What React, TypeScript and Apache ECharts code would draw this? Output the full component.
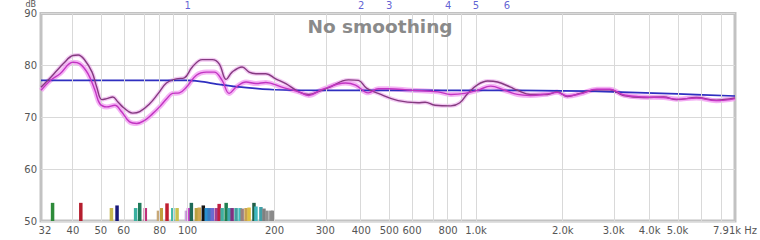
import React, { useEffect, useRef } from "react";
import * as echarts from "echarts";

// ---- data ----
const freqMin = 31;
const freqMax = 7910;

const tickFreqs = [32, 40, 50, 60, 80, 100, 200, 300, 400, 500, 600, 800, 1000, 2000, 3000, 4000, 5000, 7910];
const tickLabels = ["32", "40", "50", "60", "80", "100", "200", "300", "400", "500", "600", "800", "1.0k", "2.0k", "3.0k", "4.0k", "5.0k", "7.91k Hz"];
const gridFreqs = [40, 50, 60, 70, 80, 90, 100, 200, 300, 400, 500, 600, 700, 800, 900, 1000, 2000, 3000, 4000, 5000, 6000, 7000];

const markerFreqs = [100, 400, 500, 800, 1000, 1280];
const markerLabels = ["1", "2", "3", "4", "5", "6"];

// measured response (upper, darker)
const measuredA: [number, number][] = [
  [31, 75.8], [33.4, 77.6], [35.2, 79.0], [37, 80.3], [40, 81.9], [41.7, 82.0], [44, 81.0], [46.6, 78.7],
  [48.4, 75.8], [50.4, 73.4], [52.4, 73.6], [55, 73.9], [57.2, 73.0], [59.5, 72.0], [62, 71.2], [64.5, 70.8],
  [68.2, 71.1], [73.8, 72.6], [78.6, 74.4], [84.4, 76.6], [91.4, 77.4], [97.4, 77.6], [103.8, 79.7],
  [112.4, 81.1], [121.7, 81.1], [128.6, 80.3], [136, 77.3], [142.6, 78.7], [154.5, 79.7], [163.3, 78.7],
  [172.5, 78.4], [186.8, 78.4], [202, 77.4], [219, 76.5], [243, 74.9], [263, 74.4], [291, 75.2], [308, 75.7],
  [361, 77.2], [391, 77.1], [417, 75.6], [458, 74.6], [537, 73.2], [630, 72.8], [666, 72.9], [721, 72.3],
  [818, 72.2], [879, 72.8], [936, 74.6], [1014, 76.3], [1097, 77.0], [1188, 76.8], [1317, 75.8], [1393, 75.2],
  [1544, 74.4], [1767, 74.4], [1913, 74.9], [2071, 74.0], [2296, 74.6], [2628, 75.3], [2914, 75.3], [3257, 74.2],
  [3816, 73.8], [4474, 73.9], [4961, 73.4], [5815, 73.8], [6814, 73.3], [7910, 73.7],
];

// measured response (lower, brighter)
const measuredB: [number, number][] = [
  [31, 75.2], [33.4, 77.1], [36.1, 78.4], [40, 80.6], [42.3, 80.3], [45.1, 78.4], [47.7, 75.2], [49.6, 72.6],
  [52.4, 72.0], [55.9, 72.3], [59.1, 71.0], [62.9, 69.1], [66.6, 68.8], [70.9, 69.4], [75.6, 70.7], [79.9, 72.0],
  [84.4, 73.5], [88.6, 74.6], [93.6, 74.7], [99, 75.8], [107.2, 78.1], [116, 78.7], [123.6, 78.7], [131.7, 77.1],
  [139.3, 74.6], [147.2, 75.8], [159.4, 76.8], [172.5, 76.5], [186.8, 76.7], [212, 75.8], [243, 74.9], [263, 74.2],
  [291, 75.3], [353, 76.6], [382, 76.2], [423, 74.7], [458, 75.5], [496, 75.5], [596, 75.2], [738, 74.9],
  [818, 74.4], [914, 74.6], [1014, 75.2], [1124, 76.0], [1256, 75.2], [1393, 74.4], [1544, 74.2], [1767, 74.5],
  [1913, 74.8], [2071, 74.1], [2296, 74.5], [2628, 75.4], [2914, 75.4], [3257, 74.3], [3816, 73.9], [4474, 73.8],
  [4961, 73.5], [5815, 73.7], [6814, 73.2], [7910, 73.6],
];

// target curve
const target: [number, number][] = [
  [31, 77.1], [100, 77.1], [110, 76.9], [130, 76.3], [160, 75.7], [200, 75.3], [300, 75.2], [1000, 75.2],
  [2000, 75.1], [3000, 74.9], [5000, 74.5], [7910, 74.1],
];

// filter bars: frequency, top level (dB), colour
const barFreqs = [34.0, 42.6, 54.4, 56.9, 66.0, 68.2, 71.3, 79.2, 81.0, 84.8, 88.8, 91.9, 99.0, 100.6, 103, 107.2,
  109.7, 113.3, 116, 118.8, 121.7, 125.6, 128.6, 131.7, 136, 139.3, 142.6, 147.2, 152, 154.5, 159.4, 163.3,
  169.8, 172.5, 179.5, 183.9, 188.3, 194.4, 197.5];
const barTops = [53.5, 53.5, 52.5, 53.0, 52.5, 53.5, 52.5, 52.0, 52.5, 53.4, 52.5, 52.5, 52.0, 52.5, 53.5, 52.5,
  52.6, 53.0, 52.5, 52.5, 52.5, 52.5, 53.3, 52.5, 53.5, 52.5, 52.5, 52.5, 52.5, 52.4, 52.5, 52.6,
  53.5, 52.8, 52.7, 52.4, 52.0, 52.0, 52.0];
const barColors = ["#2e8b3a", "#b51e2e", "#c8b850", "#18187a", "#3ab0a0", "#1f7a5a", "#c0307a", "#c8a878",
  "#c0a040", "#c01e30", "#40b8a8", "#c8c050", "#c8a8d8", "#d040d0", "#1f6a58", "#b8a040", "#d0a850", "#151515",
  "#2a90d0", "#3a7ac0", "#6a6ad0", "#a04090", "#c02040", "#40b0a0", "#208050", "#40a8b0", "#803080", "#40a0a0",
  "#40c0c0", "#9a8080", "#c8a050", "#e0c040", "#206048", "#40b8c0", "#40a0a8", "#808080", "#909090", "#8c8c8c",
  "#8a8a8a"];

const L = (f: number) => Math.log10(f);
const FONT = "DejaVu Sans";

export default function App() {
  const ref = useRef<HTMLDivElement>(null);
  useEffect(() => {
    if (!ref.current) return;
    const chart = echarts.init(ref.current, undefined, { renderer: "svg" });
    const toXY = (arr: [number, number][]) => arr.map(([f, v]) => [L(f), v]);
    const tickVals = tickFreqs.map(L);
    const option: any = {
      animation: false,
      backgroundColor: "#ffffff",
      title: {
        text: "No smoothing",
        left: "center",
        top: 12,
        textStyle: { fontSize: 18.5, fontWeight: "bold", color: "#8a8a8a", fontFamily: FONT },
      },
      grid: {
        left: 41, right: 20.5, top: 13.5, bottom: 19,
        show: true, borderWidth: 3, borderColor: "#c2c2c2", backgroundColor: "#ffffff",
      },
      xAxis: {
        type: "value",
        min: L(freqMin),
        max: L(freqMax),
        axisLine: { show: false },
        axisTick: { show: false },
        splitLine: { show: false },
        axisLabel: {
          customValues: tickVals,
          showMinLabel: true,
          showMaxLabel: true,
          margin: 4,
          fontSize: 10,
          color: "#555",
          fontFamily: FONT,
          formatter: (v: number) => {
            const i = tickVals.findIndex((t) => Math.abs(t - v) < 1e-6);
            return i >= 0 ? tickLabels[i] : "";
          },
        },
      },
      yAxis: {
        type: "value",
        min: 50,
        max: 90,
        interval: 10,
        name: "dB",
        nameLocation: "end",
        nameGap: 3,
        nameTextStyle: { fontSize: 8, color: "#555", fontFamily: FONT, align: "right", padding: [0, 5, 0, 0] },
        axisLine: { show: false },
        axisTick: { show: false },
        splitLine: { show: true, lineStyle: { color: "#d9d9d9", width: 1 } },
        axisLabel: { margin: 4, fontSize: 10, color: "#555", fontFamily: FONT },
      },
      series: [
        {
          type: "line",
          name: "grid",
          z: 1,
          data: [[L(freqMin), 50]],
          showSymbol: false,
          symbol: "none",
          lineStyle: { opacity: 0 },
          silent: true,
          markLine: {
            silent: true,
            symbol: ["none", "none"],
            label: { show: false },
            lineStyle: { color: "#d9d9d9", width: 1, type: "solid" },
            data: gridFreqs.map((f) => ({ xAxis: L(f) })),
          },
        },
        {
          type: "custom",
          name: "filters",
          z: 2,
          data: barFreqs.map((f, i) => [L(f), barTops[i], i]),
          renderItem: (params: any, api: any) => {
            const x = api.value(0);
            const top = api.value(1);
            const idx = api.value(2);
            const p0 = api.coord([x, top]);
            const p1 = api.coord([x, 50]);
            return {
              type: "rect",
              shape: { x: p0[0] - 1.75, y: p0[1], width: 3.5, height: p1[1] - p0[1] },
              style: { fill: barColors[idx] },
            };
          },
        },
        {
          type: "line", name: "haloA", z: 3, data: toXY(measuredA), showSymbol: false, smooth: 0.4,
          lineStyle: { color: "#e07ae0", width: 4, opacity: 0.4 }, silent: true,
        },
        {
          type: "line", name: "haloB", z: 3, data: toXY(measuredB), showSymbol: false, smooth: 0.4,
          lineStyle: { color: "#f29af2", width: 5, opacity: 0.75 }, silent: true,
        },
        {
          type: "line", name: "target", z: 4, data: toXY(target), showSymbol: false, smooth: 0.3,
          lineStyle: { color: "#2f2fc0", width: 1.7 },
        },
        {
          type: "line", name: "measuredA", z: 5, data: toXY(measuredA), showSymbol: false, smooth: 0.4,
          lineStyle: { color: "#853a80", width: 1.4 },
        },
        {
          type: "line", name: "measuredB", z: 5, data: toXY(measuredB), showSymbol: false, smooth: 0.4,
          lineStyle: { color: "#c234c2", width: 1.4 },
        },
        {
          type: "scatter",
          name: "markers",
          z: 6,
          data: markerFreqs.map((f, i) => ({ value: [L(f), 90], name: markerLabels[i] })),
          symbolSize: 1,
          itemStyle: { color: "rgba(0,0,0,0)" },
          label: {
            show: true, position: "top", distance: 3,
            formatter: (p: any) => p.name,
            fontSize: 10, color: "#3838c8", fontFamily: FONT,
          },
        },
      ],
    };
    chart.setOption(option);
    return () => chart.dispose();
  }, []);
  return (
    <div
      ref={ref}
      style={{ position: "absolute", left: 0, top: 0, width: 760, height: 240 }}
    />
  );
}
